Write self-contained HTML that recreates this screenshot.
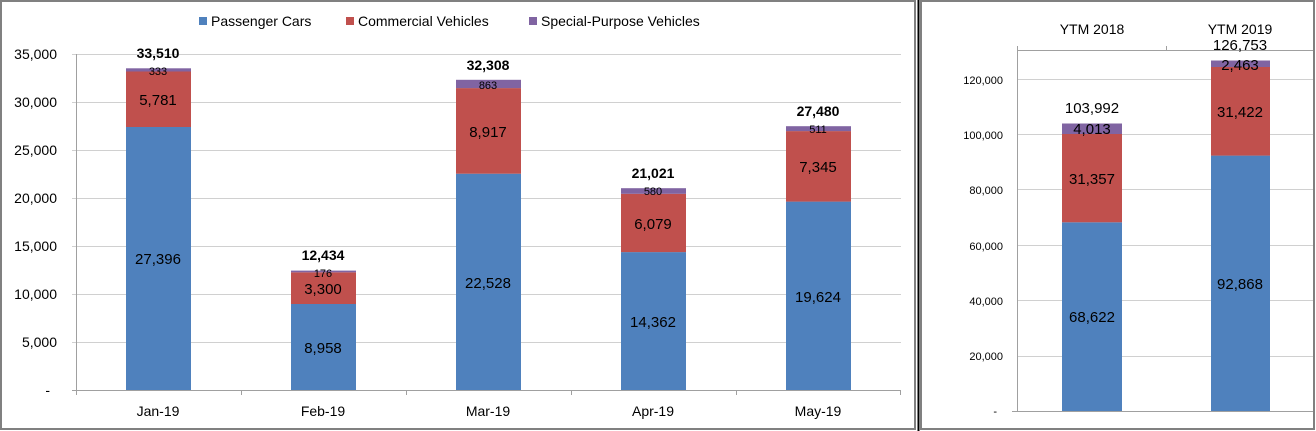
<!DOCTYPE html>
<html><head><style>
html,body{margin:0;padding:0;background:#fff;}
svg{display:block;font-family:"Liberation Sans",sans-serif;}
</style></head><body>
<svg width="1316" height="431" viewBox="0 0 1316 431" xmlns="http://www.w3.org/2000/svg">
<rect x="0" y="0" width="1316" height="431" fill="#fff"/>
<rect x="1" y="1" width="914" height="428" fill="none" stroke="#808080" stroke-width="2"/>
<line x1="918.5" y1="0" x2="918.5" y2="431" stroke="#000" stroke-width="2"/>
<rect x="921" y="1" width="393" height="428" fill="none" stroke="#808080" stroke-width="2"/>

<g stroke="#d0d0d0" stroke-width="1">
<line x1="72" y1="54.5" x2="901" y2="54.5"/><line x1="72" y1="102.5" x2="901" y2="102.5"/>
<line x1="72" y1="150.5" x2="901" y2="150.5"/><line x1="72" y1="198.5" x2="901" y2="198.5"/>
<line x1="72" y1="246.5" x2="901" y2="246.5"/><line x1="72" y1="294.5" x2="901" y2="294.5"/>
<line x1="72" y1="342.5" x2="901" y2="342.5"/>
</g>
<g stroke="#a0a0a0" stroke-width="1">
<line x1="76.5" y1="54" x2="76.5" y2="395"/><line x1="72" y1="390.5" x2="901" y2="390.5"/>
<line x1="241.5" y1="390" x2="241.5" y2="395"/><line x1="406.5" y1="390" x2="406.5" y2="395"/>
<line x1="571.5" y1="390" x2="571.5" y2="395"/><line x1="736.5" y1="390" x2="736.5" y2="395"/>
<line x1="900.5" y1="390" x2="900.5" y2="395"/>
</g>
<g font-size="14" text-anchor="end" fill="#000">
<text x="57" y="59">35,000</text><text x="57" y="107">30,000</text><text x="57" y="155">25,000</text>
<text x="57" y="203">20,000</text><text x="57" y="251">15,000</text><text x="57" y="299">10,000</text>
<text x="57" y="347">5,000</text><text x="50" y="395">-</text>
</g>
<g font-size="14" text-anchor="middle" fill="#000">
<text x="158" y="416">Jan-19</text><text x="323" y="416">Feb-19</text><text x="488" y="416">Mar-19</text>
<text x="653" y="416">Apr-19</text><text x="818" y="416">May-19</text>
</g>
<g>
<rect x="126" y="127" width="65" height="263" fill="#4F81BD"/><rect x="126" y="71.5" width="65" height="55.5" fill="#C0504D"/><rect x="126" y="68.3" width="65" height="3.2" fill="#8064A2"/>
<rect x="291" y="304" width="65" height="86" fill="#4F81BD"/><rect x="291" y="272.3" width="65" height="31.7" fill="#C0504D"/><rect x="291" y="270.6" width="65" height="1.7" fill="#8064A2"/>
<rect x="456" y="173.7" width="65" height="216.3" fill="#4F81BD"/><rect x="456" y="88.1" width="65" height="85.6" fill="#C0504D"/><rect x="456" y="79.8" width="65" height="8.3" fill="#8064A2"/>
<rect x="621" y="252.1" width="65" height="137.9" fill="#4F81BD"/><rect x="621" y="193.8" width="65" height="58.3" fill="#C0504D"/><rect x="621" y="188.2" width="65" height="5.6" fill="#8064A2"/>
<rect x="786" y="201.6" width="65" height="188.4" fill="#4F81BD"/><rect x="786" y="131.1" width="65" height="70.5" fill="#C0504D"/><rect x="786" y="126.2" width="65" height="4.9" fill="#8064A2"/>
</g>
<g font-size="15" text-anchor="middle" fill="#000">
<text x="158" y="264">27,396</text><text x="158" y="105">5,781</text>
<text x="323" y="353">8,958</text><text x="323" y="294">3,300</text>
<text x="488" y="288">22,528</text><text x="488" y="137">8,917</text>
<text x="653" y="327">14,362</text><text x="653" y="229">6,079</text>
<text x="818" y="302">19,624</text><text x="818" y="172">7,345</text>
</g>
<g font-size="11" text-anchor="middle" fill="#000">
<text x="158" y="75">333</text><text x="323" y="277">176</text><text x="488" y="89">863</text>
<text x="653" y="195">580</text><text x="818" y="133">511</text>
</g>
<g font-size="14" font-weight="bold" text-anchor="middle" fill="#000">
<text x="158" y="58">33,510</text><text x="323" y="260">12,434</text><text x="488" y="70">32,308</text>
<text x="653" y="178">21,021</text><text x="818" y="116">27,480</text>
</g>
<g font-size="14" fill="#000">
<rect x="199" y="17" width="8" height="8" fill="#4F81BD"/><text x="211" y="26">Passenger Cars</text>
<rect x="346" y="17" width="8" height="8" fill="#C0504D"/><text x="358" y="26">Commercial Vehicles</text>
<rect x="529" y="17" width="8" height="8" fill="#8064A2"/><text x="541" y="26">Special-Purpose Vehicles</text>
</g>

<g stroke="#d0d0d0" stroke-width="1">
<line x1="1017" y1="79.5" x2="1313" y2="79.5"/><line x1="1017" y1="134.5" x2="1313" y2="134.5"/>
<line x1="1017" y1="189.5" x2="1313" y2="189.5"/><line x1="1017" y1="245.5" x2="1313" y2="245.5"/>
<line x1="1017" y1="300.5" x2="1313" y2="300.5"/><line x1="1017" y1="356.5" x2="1313" y2="356.5"/>
</g>
<g stroke="#a0a0a0" stroke-width="1">
<line x1="1017.5" y1="46" x2="1017.5" y2="411"/><line x1="1012" y1="411.5" x2="1313" y2="411.5"/>
<line x1="1017" y1="50.5" x2="1313" y2="50.5"/><line x1="1166.5" y1="46" x2="1166.5" y2="51"/>
</g>
<g font-size="11" text-anchor="end" fill="#000">
<text x="1003" y="84">120,000</text><text x="1003" y="139">100,000</text><text x="1003" y="194">80,000</text>
<text x="1003" y="250">60,000</text><text x="1003" y="305">40,000</text><text x="1003" y="360">20,000</text>
<text x="997" y="415">-</text>
</g>
<g>
<rect x="1062" y="222.3" width="60" height="188.7" fill="#4F81BD"/><rect x="1062" y="134" width="60" height="88.3" fill="#C0504D"/><rect x="1062" y="123.5" width="60" height="10.5" fill="#8064A2"/>
<rect x="1211" y="155.6" width="59" height="255.4" fill="#4F81BD"/><rect x="1211" y="67" width="59" height="88.6" fill="#C0504D"/><rect x="1211" y="60.5" width="59" height="6.5" fill="#8064A2"/>
</g>
<g font-size="15" text-anchor="middle" fill="#000">
<text x="1092" y="322">68,622</text><text x="1092" y="184">31,357</text><text x="1092" y="134">4,013</text><text x="1092" y="113">103,992</text>
<text x="1240" y="289">92,868</text><text x="1240" y="117">31,422</text><text x="1240" y="70">2,463</text><text x="1240" y="50">126,753</text>
</g>
<g font-size="14" text-anchor="middle" fill="#000">
<text x="1092" y="34">YTM 2018</text><text x="1240" y="34">YTM 2019</text>
</g>
</svg>
</body></html>
